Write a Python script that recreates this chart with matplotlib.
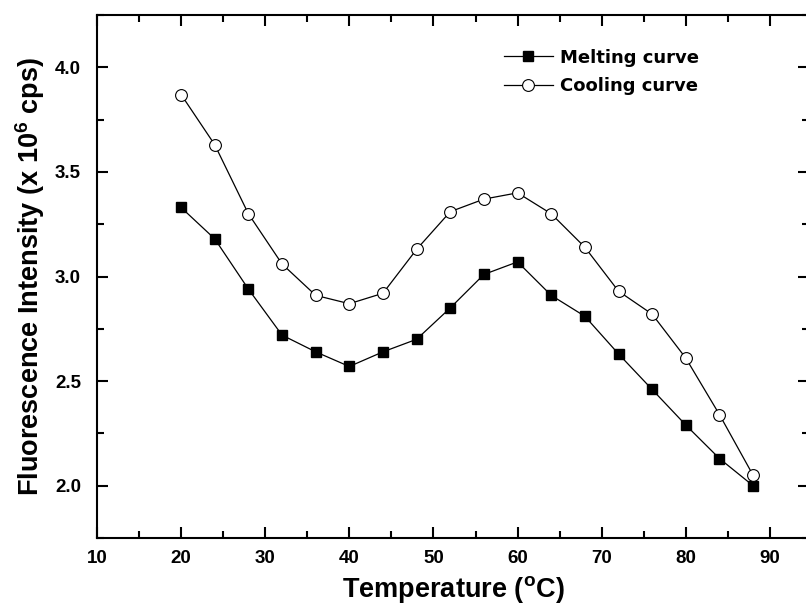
import numpy as np
import matplotlib.pyplot as plt
from matplotlib.ticker import MultipleLocator

# data
temperature = [20, 24, 28, 32, 36, 40, 44, 48, 52, 56, 60, 64, 68, 72, 76, 80, 84, 88]
melting = [3.33, 3.18, 2.94, 2.72, 2.64, 2.57, 2.64, 2.70, 2.85, 3.01, 3.07,
           2.91, 2.81, 2.63, 2.46, 2.29, 2.13, 2.00]
cooling = [3.87, 3.63, 3.30, 3.06, 2.91, 2.87, 2.92, 3.13, 3.31, 3.37, 3.40,
           3.30, 3.14, 2.93, 2.82, 2.61, 2.34, 2.05]

plt.rcParams['font.family'] = ['Liberation Sans', 'DejaVu Sans']

fig = plt.figure(figsize=(8.06, 6.13), dpi=100)
ax = fig.add_axes([0.1203, 0.1223, 0.8840, 0.8532])

ax.plot(temperature, melting, color='black', lw=0.9, marker='s', ms=7.7,
        mfc='black', mec='black', label='Melting curve')
ax.plot(temperature, cooling, color='black', lw=0.9, marker='o', ms=8.5,
        mfc='white', mec='black', mew=0.8, label='Cooling curve')

ax.set_xlim(10, 94.7)
ax.set_ylim(1.75, 4.25)
ax.xaxis.set_major_locator(MultipleLocator(10))
ax.xaxis.set_minor_locator(MultipleLocator(5))
ax.yaxis.set_major_locator(MultipleLocator(0.5))
ax.yaxis.set_minor_locator(MultipleLocator(0.25))
ax.yaxis.set_major_formatter(plt.FormatStrFormatter('%.1f'))

ax.tick_params(which='both', direction='in', top=True, right=True, width=1.5)
ax.tick_params(which='major', length=8, labelsize=13.5)
ax.tick_params(which='minor', length=5)
ax.tick_params(axis='x', which='major', pad=8.5)
ax.tick_params(axis='y', which='major', pad=11.5)
for lab in ax.get_xticklabels() + ax.get_yticklabels():
    lab.set_fontweight('bold')
for sp in ax.spines.values():
    sp.set_linewidth(1.5)

ax.set_xlabel(r'Temperature ($\mathregular{^oC}$)', fontsize=19.5, fontweight='bold', labelpad=5)
ax.set_ylabel(r'Fluorescence Intensity (x 10$\mathregular{^6}$ cps)', fontsize=19.5,
              fontweight='bold', labelpad=6)

leg = ax.legend(loc='upper left', bbox_to_anchor=(0.548, 0.967), frameon=False,
                handlelength=2.75, handletextpad=0.35, labelspacing=0.6,
                prop={'family': 'DejaVu Sans', 'weight': 'bold', 'size': 13})

fig.savefig('out.png', dpi=100)
